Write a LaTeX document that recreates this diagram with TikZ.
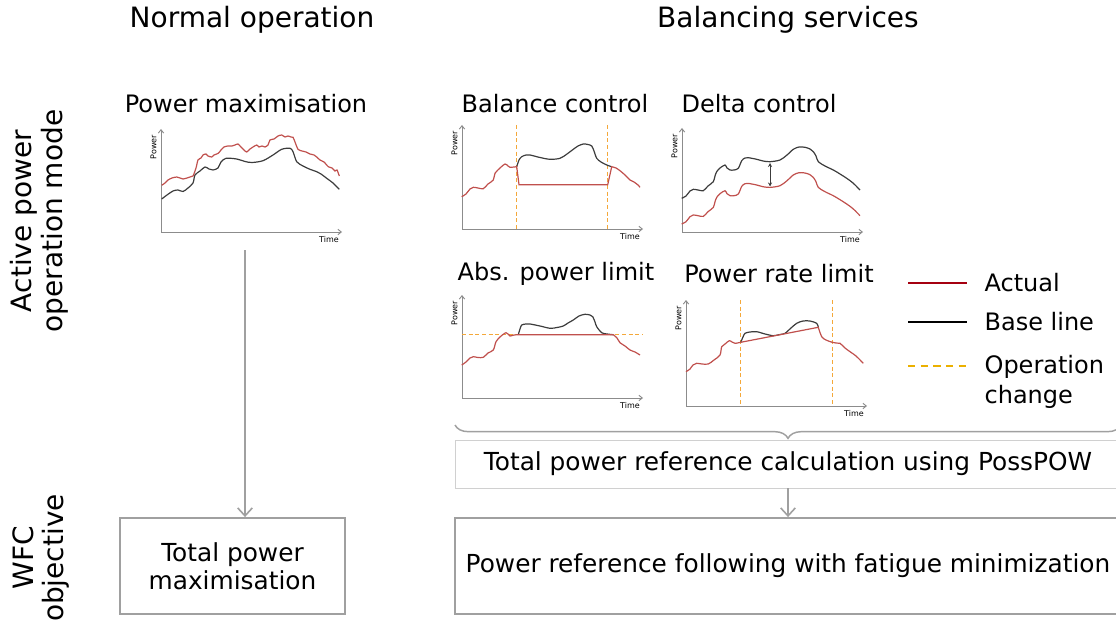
\documentclass[tikz,border=0pt]{standalone}
\usepackage{fontspec}
\setmainfont{DejaVu Sans}
\usetikzlibrary{arrows.meta,positioning,decorations.pathreplacing}

\definecolor{axisgray}{HTML}{8C8C8C}
\definecolor{basecol}{HTML}{3C3C3C}
\definecolor{actualred}{HTML}{C0504D}
\definecolor{legendred}{HTML}{A50010}
\definecolor{opchange}{HTML}{F4A83A}
\definecolor{legendgold}{HTML}{EBB000}
\definecolor{boxgray}{HTML}{A0A0A0}
\definecolor{calcgray}{HTML}{D0D0D0}

% axes of one small power/time chart: prefix, x0, y0, x end, y top
\newcommand{\powerframe}[5]{%
  \coordinate (#1-o) at (#2,#3);
  \draw[axisline] (#2,#5) -- (#1-o) -- (#4,#3);
  \node[ticklabel, rotate=90] (#1-pow) at (#2-7.5,#5+18) {Power};
  \node[ticklabel] (#1-time) at (#4-13,#3+8) {Time};
}

\begin{document}
\begin{tikzpicture}[x=0.75pt,y=-0.75pt,
    title/.style={font=\fontsize{21}{23}\selectfont},
    sidelabel/.style={font=\fontsize{21}{23}\selectfont, rotate=90, align=center},
    subtitle/.style={font=\fontsize{18}{20}\selectfont},
    bodytext/.style={font=\fontsize{18.6}{21}\selectfont, align=center},
    ticklabel/.style={font=\fontsize{6}{7}\selectfont, inner sep=0pt},
    axisline/.style={axisgray, line width=0.7pt,
        {Straight Barb[length=2.5pt,width=4pt]}-{Straight Barb[length=2.5pt,width=4pt]}},
    basecurve/.style={basecol, line width=0.9pt},
    actualcurve/.style={actualred, line width=0.9pt},
    opline/.style={opchange, dashed, dash pattern=on 3pt off 2pt, line width=0.8pt},
    wfcbox/.style={draw=boxgray, line width=1.4pt, minimum height=72pt, bodytext},
    calcbox/.style={draw=calcgray, line width=0.7pt, minimum height=36pt,
        minimum width=499.5pt, bodytext},
    flow/.style={boxgray, line width=1.2pt, -{Straight Barb[length=6pt,width=11pt]}},
    legendtext/.style={font=\fontsize{18}{22}\selectfont, align=left, inner sep=0pt}]

    \useasboundingbox (0,0) rectangle (1116,624);

    % headings
    \node[title] (normal) at (252,20) {Normal operation};
    \node[title] (balancing) at (788,20) {Balancing services};
    \node[sidelabel] (modelbl) at (39,221) {Active power\\operation mode};
    \node[sidelabel] (wfclbl) at (41,558) {WFC\\objective};

    % chart titles
    \node[subtitle] (pmaxlbl) at (246,104) {Power maximisation};
    \node[subtitle] (ballbl) at (555,104) {Balance control};
    \node[subtitle] (deltalbl) at (759,104) {Delta control};
    \node[subtitle] (abslbl) at (556,274) {Abs. power limit};
    \node[subtitle] (ratelbl) at (779,274) {Power rate limit};

    % power maximisation
    \powerframe{pmax}{161}{232}{342}{129}
    \draw[basecurve] plot[smooth, tension=0.5] coordinates {(161.7,199) (167,195) (173,191)
        (178,190) (183,191.5) (188,188) (193,183) (195,175) (200,171) (205,167) (209,169)
        (213,170) (218,168) (221,162) (226,158.3) (236.7,159) (245,161.5) (252,162.5)
        (263,160.7) (273,155) (281.7,149.3) (290,148.3) (293,151.7) (296.7,161.7) (303,166)
        (310,169.3) (316.7,171.7) (321,174) (326.7,178.3) (333,183) (339.3,189.3)};
    \draw[actualcurve] plot[smooth, tension=0.4] coordinates {(161.7,185.3) (165,183)
        (168,180) (172,178) (176.7,177) (180,178) (183,179) (187,178) (190,177) (193,176)
        (196,168) (198,160) (201,158) (203,155) (206,154)
        (208,156) (211.7,157) (214,155) (218.3,153.3) (221,150) (224,147) (228,146) (232,146)
        (235,145) (238,144) (241,147) (244,150) (246.7,152) (250,149) (253,147) (256.7,145)
        (259,147) (262,146) (265,147) (268,145) (270,140) (274,139) (278,136) (281.7,135)
        (285,137) (288,136) (291,137) (293,137.3) (295,142) (298,149.3) (302,151) (306,152)
        (310,154) (314,155) (316.7,157) (320,160) (324,162) (328.3,166.7) (332,168) (335,171)
        (337,170) (339.3,176)};
    \coordinate (pmaxout) at (245,250);

    % balance control
    \powerframe{bal}{462}{229}{643}{125}
    \draw[opline] (516.7,125) -- (516.7,229);
    \draw[opline] (607.7,125) -- (607.7,229);
    \draw[basecurve] plot[smooth, tension=0.5] coordinates {(516.7,166.7) (519,160) (521.7,156.7)
        (526,155) (530,155) (540,157.5) (550,159.3) (560,158.3) (567,154) (573.3,149.3)
        (578,146) (583.3,144) (588,144.5) (591.7,146) (594,151) (596.7,158.3) (601,162)
        (606.7,165) (611.7,166.7)};
    \draw[actualcurve] plot[smooth, tension=0.5] coordinates {(461.7,196.7) (466,194) (470,189)
        (473.3,187.3) (478,188) (483.3,188.7) (488,184) (493.3,180) (495,173.3) (500,168)
        (505,164) (508,166) (510,167.3) (516.7,166.7)}
        -- (519,184.7) -- (607.7,184.7) -- (611.7,166.7)
        -- plot[smooth, tension=0.5] coordinates {(611.7,166.7) (616,168) (620,170.7) (625,175)
        (630,180) (634,182) (638,185) (640,187.3)};

    % delta control
    \powerframe{delta}{682}{232}{863}{128}
    \draw[basecurve] plot[smooth, tension=0.5] coordinates {(681.7,198.3) (686,196) (690,191)
        (693.3,189.3) (698,190) (703.3,190.7) (708,186) (713.3,181.7) (715,176) (716.7,171.7)
        (720,168) (725,165) (727,168) (730,170) (734,170) (738.3,168.3) (741.7,160.7)
        (745,158) (748.3,157.7) (756.7,159.3) (763,161) (770,161.7) (780,160) (787,155)
        (793.3,149.3) (799,147) (805,147.3) (810,149) (813.3,151.7) (816,156) (818.3,161.7)
        (825,166) (833.3,170) (840,174) (846.7,178.3) (853,183) (860,190)};
    \draw[actualcurve, shift={(0,25.7)}] plot[smooth, tension=0.5] coordinates {(681.7,198.3)
        (686,196) (690,191) (693.3,189.3) (698,190) (703.3,190.7) (708,186) (713.3,181.7)
        (715,176) (716.7,171.7) (720,168) (725,165) (727,168) (730,170) (734,170)
        (738.3,168.3) (741.7,160.7) (745,158) (748.3,157.7) (756.7,159.3) (763,161)
        (770,161.7) (780,160) (787,155) (793.3,149.3) (799,147) (805,147.3) (810,149)
        (813.3,151.7) (816,156) (818.3,161.7) (825,166) (833.3,170) (840,174) (846.7,178.3)
        (853,183) (860,190)};
    \coordinate (dtop) at (770,163);
    \coordinate (dbot) at (770,186.5);
    \draw[basecol, line width=0.7pt, {Stealth[length=3pt,width=3pt]}-{Stealth[length=3pt,width=3pt]}]
        (dtop) -- (dbot);

    % abs. power limit
    \powerframe{abs}{462}{398}{643}{295}
    \draw[opline] (462,334.3) -- (643,334.3);
    \draw[basecurve] plot[smooth, tension=0.5] coordinates {(518.3,334.7) (520,329) (521.7,325)
        (526,324) (530,324) (540,326) (550,328.3) (557,327.5) (563.3,326) (568,323)
        (573.3,320) (579,316) (585,314.3) (590,315) (592.7,316.7) (595,322) (596.7,326.7)
        (601.7,332.7) (607,334) (613.3,334.7)};
    \draw[actualcurve] plot[smooth, tension=0.5] coordinates {(461.7,365) (466,362) (470,358)
        (473.3,356.7) (478,357.5) (483.3,357.3) (488,353) (493.3,350) (496,341.7) (500,337)
        (503.3,334.3) (506,332.7) (508,334) (510,336) (514,335) (518.3,334.7)}
        -- (613.3,334.7)
        -- plot[smooth, tension=0.5] coordinates {(613.3,334.7) (617,338) (620,342.7) (625,346)
        (630,350) (635,352) (640,355)};

    % power rate limit
    \powerframe{rate}{686}{406}{867}{300}
    \draw[opline] (740.7,300) -- (740.7,406);
    \draw[opline] (832.3,300) -- (832.3,406);
    \draw[basecurve] plot[smooth, tension=0.5] coordinates {(740.7,342.3) (743,337) (745,333.3)
        (750,332) (756.7,331.7) (765,334) (773.3,335.7) (780,334.5) (785,333.3) (791,328)
        (796.7,323.3) (803,321) (810,321) (816.7,323.3) (818.3,327.3)};
    \draw[actualcurve] plot[smooth, tension=0.5] coordinates {(686,371.7) (690,369) (693,365)
        (696.7,363.3) (702,364) (708.3,364) (714,360) (720,355) (721.7,346.7) (725,344)
        (729.3,340.7) (732,342) (735,343.3) (740.7,342.3)}
        -- (818.3,327.3)
        -- plot[smooth, tension=0.5] coordinates {(818.3,327.3) (821.7,336.7) (826,340)
        (832.3,342.3) (836,343) (840,343.3) (845,348) (850,351.7) (856,356) (863.3,363.3)};

    % legend
    \coordinate (actA) at (908,283);
    \coordinate (actB) at (967,283);
    \coordinate (baseA) at (908,322);
    \coordinate (baseB) at (967,322);
    \coordinate (opA) at (908,366);
    \coordinate (opB) at (967,366);
    \draw[legendred, line width=1.5pt] (actA) -- (actB);
    \draw[black, line width=1.5pt] (baseA) -- (baseB);
    \draw[legendgold, line width=1.5pt, dash pattern=on 5.5pt off 4pt] (opA) -- (opB);
    \node[legendtext, right=13pt of actB] (actlbl) {Actual};
    \node[legendtext, right=13pt of baseB] (baselbl) {Base line};
    \node[legendtext, anchor=north west] (oplbl) at ([xshift=13pt,yshift=8pt]opB) {Operation\\change};

    % brace and boxes
    \coordinate (braceL) at (455,425);
    \coordinate (braceR) at (1121,425);
    \draw[boxgray, line width=1.1pt, decorate, decoration={brace, mirror, amplitude=10pt}]
        (braceL) -- (braceR);
    \node[calcbox] (calc) at (788,464) {Total power reference calculation using PossPOW};
    \node[wfcbox, minimum width=168.75pt] (maxbox) at (232.5,566) {Total power\\maximisation};
    \node[wfcbox, minimum width=499.5pt] (followbox) at (788,566)
        {Power reference following with fatigue minimization};

    \draw[flow] (pmaxout) -- (pmaxout |- maxbox.north);
    \draw[flow] (calc.south) -- (followbox.north);
\end{tikzpicture}
\end{document}
